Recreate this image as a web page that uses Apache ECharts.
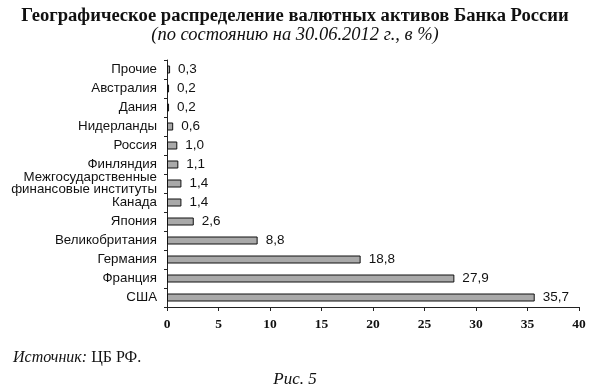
<!DOCTYPE html>
<html><head><meta charset="utf-8">
<script src="https://cdn.jsdelivr.net/npm/echarts@6/dist/echarts.min.js"></script>
<style>html,body{margin:0;padding:0;background:#fff}#c{width:590px;height:387px}</style>
</head><body><div id="c"></div>
<script>
// top-to-bottom order
const categories = ['Прочие','Австралия','Дания','Нидерланды','Россия','Финляндия','Межгосударственные\nфинансовые институты','Канада','Япония','Великобритания','Германия','Франция','США'];
const values = [0.3,0.2,0.2,0.6,1.0,1.1,1.4,1.4,2.6,8.8,18.8,27.9,35.7];
const xTicks = {min:0, max:40, interval:5};

const chart = echarts.init(document.getElementById('c'), null, {renderer:'canvas'});
chart.setOption({
  animation:false,
  backgroundColor:'#fff',
  title:[
    {text:'Географическое распределение валютных активов Банка России', left:'center', top:2,
     textStyle:{fontFamily:'Liberation Serif', fontWeight:'bold', fontSize:18.6, color:'#111'}},
    {text:'(по состоянию на 30.06.2012 г., в %)', left:'center', top:21,
     textStyle:{fontFamily:'Liberation Serif', fontStyle:'italic', fontWeight:'normal', fontSize:18.5, color:'#111'}},
    {text:'{i|Источник:} ЦБ РФ.', left:8, top:345,
     textStyle:{fontFamily:'Liberation Serif', fontWeight:'normal', fontSize:16, color:'#111',
       rich:{i:{fontFamily:'Liberation Serif', fontStyle:'italic', fontSize:16, color:'#111'}}}},
    {text:'Рис. 5', left:'center', top:366,
     textStyle:{fontFamily:'Liberation Serif', fontStyle:'italic', fontWeight:'normal', fontSize:17, color:'#111'}}
  ],
  grid:{left:167, right:11, top:60, bottom:80, containLabel:false},
  xAxis:{type:'value', min:xTicks.min, max:xTicks.max, interval:xTicks.interval,
    axisLine:{show:true, lineStyle:{color:'#222', width:1}},
    axisTick:{show:true, length:4, lineStyle:{color:'#222'}},
    splitLine:{show:false},
    axisLabel:{fontFamily:'Liberation Serif', fontWeight:'bold', fontSize:13.5, color:'#111', margin:11}},
  yAxis:{type:'category', data:categories, inverse:true,
    axisLine:{show:true, lineStyle:{color:'#222', width:1}},
    axisTick:{show:true, length:3, lineStyle:{color:'#222'}},
    axisLabel:{fontFamily:'Liberation Sans', fontSize:13.3, color:'#111', margin:10, lineHeight:12}},
  series:[{type:'bar', data:values, barWidth:8,
    itemStyle:{color:'#a9a9a9', borderColor:'#111', borderWidth:1},
    label:{show:true, position:'right', distance:8, fontFamily:'Liberation Sans', fontSize:13.5, color:'#111',
      formatter:p=>p.value.toFixed(1).replace('.',',')}}]
});
</script></body></html>
